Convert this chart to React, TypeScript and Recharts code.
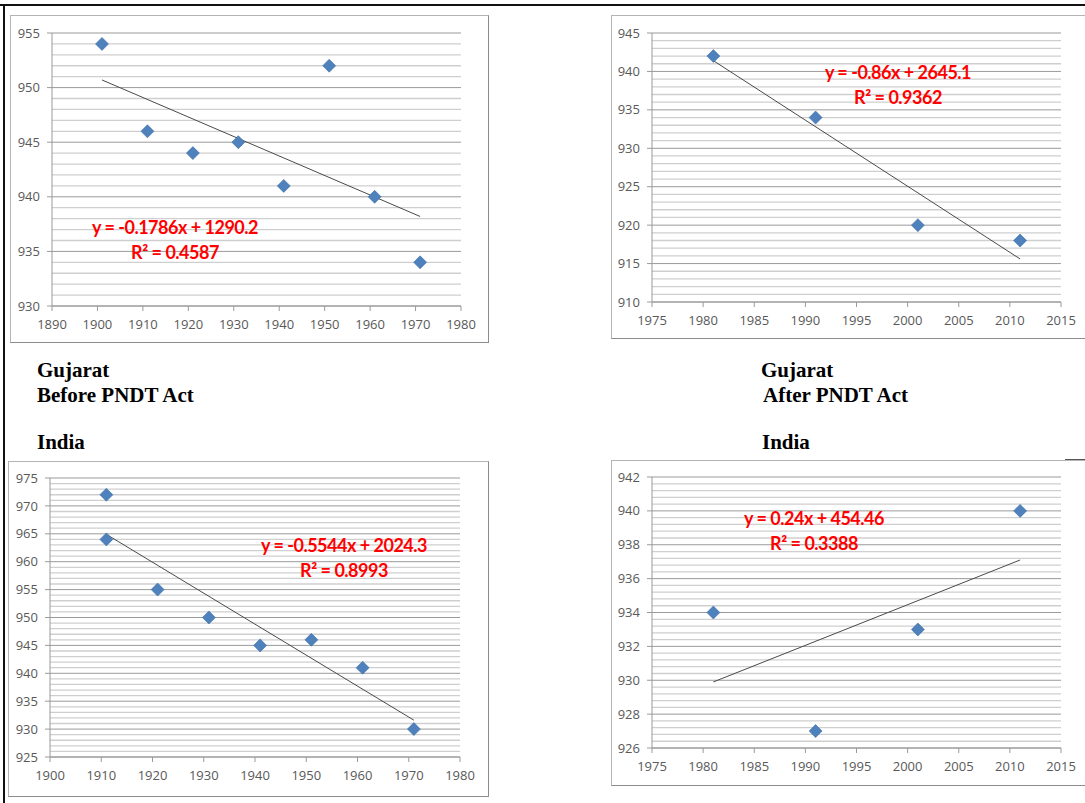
import React from "react";
import { ScatterChart, Scatter, XAxis, YAxis, CartesianGrid, ReferenceLine } from "recharts";

// Gujarat, before PNDT Act
const gujBeforeYears = [1901, 1911, 1921, 1931, 1941, 1951, 1961, 1971];
const gujBeforeRatio = [954, 946, 944, 945, 941, 952, 940, 934];
const gujBeforeTrendYears = [1901, 1971];
const gujBeforeTrendRatio = [950.7, 938.2];
const gujBeforeXTicks = [1890, 1900, 1910, 1920, 1930, 1940, 1950, 1960, 1970, 1980];
const gujBeforeYTicks = [930, 935, 940, 945, 950, 955];

// Gujarat, after PNDT Act
const gujAfterYears = [1981, 1991, 2001, 2011];
const gujAfterRatio = [942, 934, 920, 918];
const gujAfterTrendYears = [1981, 2011];
const gujAfterTrendRatio = [941.4, 915.6];
const gujAfterXTicks = [1975, 1980, 1985, 1990, 1995, 2000, 2005, 2010, 2015];
const gujAfterYTicks = [910, 915, 920, 925, 930, 935, 940, 945];

// India, before PNDT Act
const indBeforeYears = [1911, 1911, 1921, 1931, 1941, 1951, 1961, 1971];
const indBeforeRatio = [972, 964, 955, 950, 945, 946, 941, 930];
const indBeforeTrendYears = [1911, 1971];
const indBeforeTrendRatio = [964.9, 931.6];
const indBeforeXTicks = [1900, 1910, 1920, 1930, 1940, 1950, 1960, 1970, 1980];
const indBeforeYTicks = [925, 930, 935, 940, 945, 950, 955, 960, 965, 970, 975];

// India, after PNDT Act
const indAfterYears = [1981, 1991, 2001, 2011];
const indAfterRatio = [934, 927, 933, 940];
const indAfterTrendYears = [1981, 2011];
const indAfterTrendRatio = [929.9, 937.1];
const indAfterXTicks = [1975, 1980, 1985, 1990, 1995, 2000, 2005, 2010, 2015];
const indAfterYTicks = [926, 928, 930, 932, 934, 936, 938, 940, 942];

const AXIS_FONT = "'Open Sans', 'Noto Sans', sans-serif";

const zip = (xs: number[], ys: number[]) => xs.map((x, i) => ({ x, y: ys[i] }));

// minor gridlines: 4 between each pair of major ticks
function minorValues(ticks: number[], parts = 5) {
  const out: number[] = [];
  for (let i = 0; i < ticks.length - 1; i++) {
    const step = (ticks[i + 1] - ticks[i]) / parts;
    for (let k = 1; k < parts; k++) out.push(ticks[i] + step * k);
  }
  return out;
}

const Diamond = (props: any) => {
  const { cx, cy } = props;
  if (cx == null || cy == null) return <g />;
  const r = 6.5;
  return (
    <polygon
      points={`${cx},${cy - r} ${cx + r},${cy} ${cx},${cy + r} ${cx - r},${cy}`}
      fill="#4F81BD"
      stroke="#3d6ea8"
      strokeWidth={0.6}
    />
  );
};

type PanelProps = {
  box: { left: number; top: number; width: number; height: number };
  yAxisWidth: number;
  marginTop: number;
  marginRight: number;
  xAxisHeight: number;
  years: number[];
  ratio: number[];
  trendYears: number[];
  trendRatio: number[];
  xTicks: number[];
  yTicks: number[];
  equation: string;
  r2: string;
  eqCenter: { x: number; y: number };
};

function Panel(p: PanelProps) {
  const points = zip(p.years, p.ratio);
  const trend = zip(p.trendYears, p.trendRatio);
  const minors = minorValues(p.yTicks);
  const w = p.box.width - 2;
  const h = p.box.height - 2;
  const tick = { fill: "#595959", fontSize: 13, fontFamily: AXIS_FONT };
  return (
    <>
      <div
        style={{
          position: "absolute",
          left: p.box.left,
          top: p.box.top,
          width: w,
          height: h,
          border: "1px solid #b4b4b4",
          borderRightColor: "#8c8c8c",
          borderBottomColor: "#8c8c8c",
          background: "#fff",
        }}
      >
        <ScatterChart
          width={w}
          height={h}
          margin={{ top: p.marginTop, right: p.marginRight, bottom: 0, left: 0 }}
        >
          <CartesianGrid vertical={false} stroke="#9a9a9a" />
          {minors.map((v) => (
            <ReferenceLine key={v} y={v} stroke="#cfcfcf" strokeWidth={1.3} />
          ))}
          <XAxis
            type="number"
            dataKey="x"
            domain={[p.xTicks[0], p.xTicks[p.xTicks.length - 1]]}
            ticks={p.xTicks}
            interval={0}
            allowDataOverflow
            height={p.xAxisHeight}
            tickSize={5}
            tickMargin={9}
            stroke="#9a9a9a"
            tick={tick}
          />
          <YAxis
            type="number"
            dataKey="y"
            domain={[p.yTicks[0], p.yTicks[p.yTicks.length - 1]]}
            ticks={p.yTicks}
            interval={0}
            allowDataOverflow
            width={p.yAxisWidth}
            tickSize={5}
            tickMargin={7}
            stroke="#9a9a9a"
            tick={tick}
          />
          <Scatter
            data={trend}
            line={{ stroke: "#4a4a4a", strokeWidth: 1 }}
            shape={() => <g />}
            legendType="none"
            isAnimationActive={false}
          />
          <Scatter data={points} shape={<Diamond />} isAnimationActive={false} />
        </ScatterChart>
      </div>
      <div
        style={{
          position: "absolute",
          left: p.eqCenter.x,
          top: p.eqCenter.y,
          transform: "translate(-50%, -50%)",
          color: "#ff0000",
          fontFamily: "Lato, 'Noto Sans', sans-serif",
          fontWeight: 700,
          fontSize: 18,
          letterSpacing: -0.5,
          lineHeight: "25px",
          textAlign: "center",
          whiteSpace: "nowrap",
        }}
      >
        <div>{p.equation}</div>
        <div>{p.r2}</div>
      </div>
    </>
  );
}

const captionStyle: React.CSSProperties = {
  position: "absolute",
  fontFamily: "'Liberation Serif', 'Times New Roman', serif",
  fontWeight: 700,
  fontSize: 21,
  lineHeight: "21px",
  color: "#000",
  whiteSpace: "nowrap",
};

export default function App() {
  return (
    <div
      style={{
        position: "absolute",
        left: 0,
        top: 0,
        width: 1085,
        height: 803,
        overflow: "hidden",
        background: "#fff",
      }}
    >
      {/* page frame */}
      <div style={{ position: "absolute", left: 0, top: 4, width: 1085, height: 2, background: "#111" }} />
      <div style={{ position: "absolute", left: 3, top: 4, width: 2, height: 799, background: "#111" }} />
      <div style={{ position: "absolute", left: 1065, top: 459, width: 20, height: 1, background: "#555" }} />

      <Panel
        box={{ left: 10, top: 15, width: 479, height: 328 }}
        yAxisWidth={41}
        marginTop={17}
        marginRight={27}
        xAxisHeight={36}
        years={gujBeforeYears}
        ratio={gujBeforeRatio}
        trendYears={gujBeforeTrendYears}
        trendRatio={gujBeforeTrendRatio}
        xTicks={gujBeforeXTicks}
        yTicks={gujBeforeYTicks}
        equation="y = -0.1786x + 1290.2"
        r2="R² = 0.4587"
        eqCenter={{ x: 175, y: 240 }}
      />
      <Panel
        box={{ left: 611, top: 15, width: 479, height: 324 }}
        yAxisWidth={40}
        marginTop={17}
        marginRight={28}
        xAxisHeight={36}
        years={gujAfterYears}
        ratio={gujAfterRatio}
        trendYears={gujAfterTrendYears}
        trendRatio={gujAfterTrendRatio}
        xTicks={gujAfterXTicks}
        yTicks={gujAfterYTicks}
        equation="y = -0.86x + 2645.1"
        r2="R² = 0.9362"
        eqCenter={{ x: 898, y: 85 }}
      />
      <Panel
        box={{ left: 8, top: 461, width: 481, height: 336 }}
        yAxisWidth={41}
        marginTop={16}
        marginRight={28}
        xAxisHeight={39}
        years={indBeforeYears}
        ratio={indBeforeRatio}
        trendYears={indBeforeTrendYears}
        trendRatio={indBeforeTrendRatio}
        xTicks={indBeforeXTicks}
        yTicks={indBeforeYTicks}
        equation="y = -0.5544x + 2024.3"
        r2="R² = 0.8993"
        eqCenter={{ x: 344, y: 558 }}
      />
      <Panel
        box={{ left: 611, top: 460, width: 479, height: 326 }}
        yAxisWidth={40}
        marginTop={16}
        marginRight={28}
        xAxisHeight={37}
        years={indAfterYears}
        ratio={indAfterRatio}
        trendYears={indAfterTrendYears}
        trendRatio={indAfterTrendRatio}
        xTicks={indAfterXTicks}
        yTicks={indAfterYTicks}
        equation="y = 0.24x + 454.46"
        r2="R² = 0.3388"
        eqCenter={{ x: 814, y: 531 }}
      />

      <div style={{ ...captionStyle, left: 37, top: 360 }}>Gujarat</div>
      <div style={{ ...captionStyle, left: 37, top: 385 }}>Before PNDT Act</div>
      <div style={{ ...captionStyle, left: 37, top: 432 }}>India</div>
      <div style={{ ...captionStyle, left: 761, top: 360 }}>Gujarat</div>
      <div style={{ ...captionStyle, left: 763, top: 385 }}>After PNDT Act</div>
      <div style={{ ...captionStyle, left: 762, top: 432 }}>India</div>
    </div>
  );
}
